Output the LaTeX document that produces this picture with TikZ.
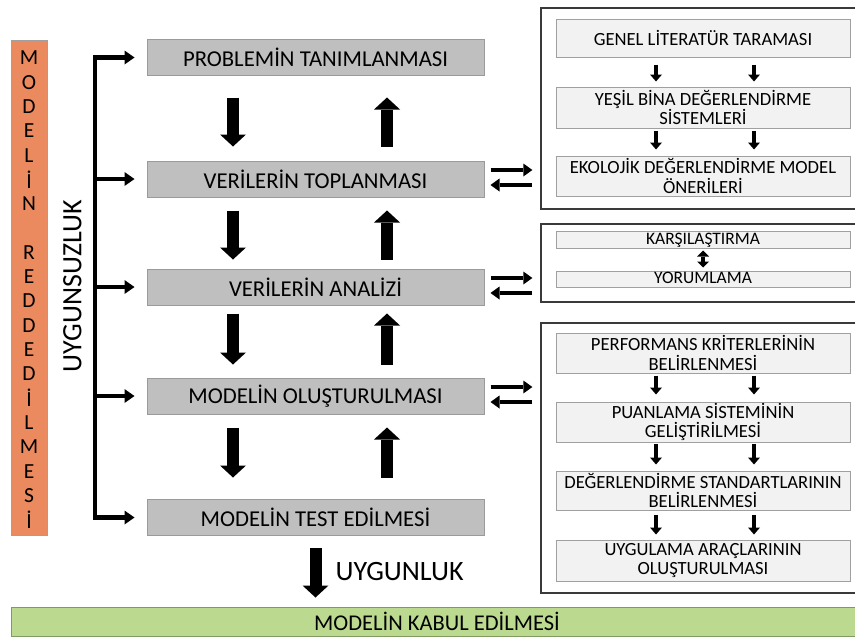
\documentclass[tikz,border=0pt]{standalone}
\usepackage{fontspec}
\setmainfont{Carlito}
\usetikzlibrary{arrows.meta}
\definecolor{stagefill}{HTML}{BFBFBF}
\definecolor{stageedge}{HTML}{9A9A9A}
\definecolor{subfill}{HTML}{F2F2F2}
\definecolor{subedge}{HTML}{A0A0A0}
\definecolor{rejectfill}{HTML}{EA8A5E}
\definecolor{acceptfill}{HTML}{BBDA90}
\definecolor{acceptedge}{HTML}{7F9A63}
\definecolor{frameedge}{HTML}{3A3A3A}
\tikzset{
  stage/.style={draw=stageedge, fill=stagefill, line width=1pt, minimum width=337pt,
    minimum height=36pt, inner sep=0pt, font=\fontsize{22.7}{26}\selectfont},
  substep/.style={draw=subedge, fill=subfill, line width=1pt, minimum width=294pt,
    inner sep=0pt, align=center, font=\fontsize{18.6}{19.5}\selectfont},
  slim/.style={substep, font=\fontsize{17.5}{19}\selectfont, text height=11.5pt, text depth=2.5pt},
  frame/.style={draw=frameedge, line width=1.3pt, minimum width=334pt, inner sep=0pt},
  fat/.style={line width=12pt, -{Triangle[width=26pt,length=12pt,line width=0pt]}},
  thin fat/.style={line width=4pt, -{Triangle[width=12pt,length=7pt,line width=0pt]}},
  swap/.style={line width=4.5pt, -{Triangle[width=13pt,length=9pt,line width=0pt]}},
  bracket/.style={line width=4.5pt}
}
\begin{document}
\begin{tikzpicture}[x=1pt, y=-1pt]
  \clip (0,0) rectangle (855,637);
  \fill[white] (0,0) rectangle (855,637);

  % left column
  \node[draw=subedge, fill=rejectfill, minimum width=36pt, minimum height=495pt, inner sep=0pt] (reject) at (29,287.5) {};
  \foreach \ch [count=\i] in {M,O,D,E,L,İ,N}
    \node[font=\fontsize{21.5}{24}\selectfont] (ra\i) at (29,{58+(\i-1)*24.3}) {\ch};
  \foreach \ch [count=\i] in {R,E,D,D,E,D,İ,L,M,E,S,İ}
    \node[font=\fontsize{21.5}{24}\selectfont] (rb\i) at (29,{252.4+(\i-1)*24.3}) {\ch};
  \node[rotate=90, font=\fontsize{28}{32}\selectfont] (misfit) at (72.5,286) {UYGUNSUZLUK};

  % main stages
  \node[stage] (p1) at (315.5,57.5) {PROBLEMİN TANIMLANMASI};
  \node[stage] (p2) at (315.5,179) {VERİLERİN TOPLANMASI};
  \node[stage] (p3) at (315.5,287) {VERİLERİN ANALİZİ};
  \node[stage] (p4) at (315.5,396) {MODELİN OLUŞTURULMASI};
  \node[stage] (p5) at (315.5,517.5) {MODELİN TEST EDİLMESİ};

  % bracket
  \coordinate (bx) at (95,0);
  \draw[bracket, line cap=rect] (bx |- p1.west) -- (bx |- p5.west);
  \foreach \n in {p1,p2,p3,p4,p5}
    \draw[bracket, -{Triangle[width=14pt,length=10pt,line width=0pt]}, shorten >=12pt]
      (bx |- \n.west) -- (\n.west);

  % up and down arrows
  \foreach \a/\b/\s/\t in {p1/p2/21.5/14, p2/p3/13/9, p3/p4/8/13, p4/p5/13/21.5}{
    \draw[fat, shorten <=\s pt, shorten >=\t pt] ([xshift=-82.5pt]\a.south) -- ([xshift=-82.5pt]\b.north);
    \draw[fat, shorten <=\t pt, shorten >=\s pt] ([xshift=71.5pt]\b.north) -- ([xshift=71.5pt]\a.south);
  }

  % accepted
  \node[draw=acceptedge, fill=acceptfill, line width=1pt, minimum width=852pt, minimum height=29pt,
    inner sep=0pt, font=\fontsize{22.5}{26}\selectfont] (accept) at (437,621.5) {MODELİN KABUL EDİLMESİ};
  \draw[fat, shorten <=11.5pt, shorten >=9pt] (p5.south) -- (p5.south |- accept.north);
  \node[anchor=west, font=\fontsize{28}{32}\selectfont] (fit) at (332,572) {UYGUNLUK};

  % right frames
  \node[frame, minimum height=201pt] (r1) at (708,108.5) {};
  \node[frame, minimum height=78pt] (r2) at (708,263) {};
  \node[frame, minimum height=270pt] (r3) at (708,458) {};

  \node[substep, minimum height=38pt] (g1) at (703,38) {GENEL LİTERATÜR TARAMASI};
  \node[substep, minimum height=41pt] (g2) at (703,107.5) {YEŞİL BİNA DEĞERLENDİRME\\SİSTEMLERİ};
  \node[substep, minimum height=40pt] (g3) at (703,176) {EKOLOJİK DEĞERLENDİRME MODEL\\ÖNERİLERİ};

  \node[slim, minimum height=17pt] (k1) at (703,239.5) {KARŞILAŞTIRMA};
  \node[slim, minimum height=16pt] (k2) at (703,279) {YORUMLAMA};

  \node[substep, minimum height=40pt] (q1) at (703,353) {PERFORMANS KRİTERLERİNİN\\BELİRLENMESİ};
  \node[substep, minimum height=40pt] (q2) at (703,422) {PUANLAMA SİSTEMİNİN\\GELİŞTİRİLMESİ};
  \node[substep, minimum height=39pt] (q3) at (703,490.5) {DEĞERLENDİRME STANDARTLARININ\\BELİRLENMESİ};
  \node[substep, minimum height=41pt] (q4) at (703,560.5) {UYGULAMA ARAÇLARININ\\OLUŞTURULMASI};

  \foreach \a/\b/\s/\t in {g1/g2/7/5, g2/g3/2/6, q1/q2/2/7, q2/q3/1/6, q3/q4/4/5}{
    \draw[thin fat, shorten <=\s pt, shorten >=\t pt] ([xshift=-47pt]\a.south) -- ([xshift=-47pt]\b.north);
    \draw[thin fat, shorten <=\s pt, shorten >=\t pt] ([xshift=51pt]\a.south) -- ([xshift=51pt]\b.north);
  }
  \draw[thin fat, {Triangle[width=12pt,length=6pt,line width=0pt]}-{Triangle[width=12pt,length=6pt,line width=0pt]},
    shorten <=2pt, shorten >=3pt] (k1.south) -- (k2.north);

  % exchange arrows
  \foreach \p/\r in {p2/r1, p3/r2, p4/r3}{
    \draw[swap, shorten <=6pt, shorten >=8pt] ([yshift=9pt]\p.east) -- ([yshift=9pt]\p.east -| \r.west);
    \draw[swap, shorten <=8pt, shorten >=6pt] ([yshift=-6pt]\p.east -| \r.west) -- ([yshift=-6pt]\p.east);
  }
\end{tikzpicture}
\end{document}
